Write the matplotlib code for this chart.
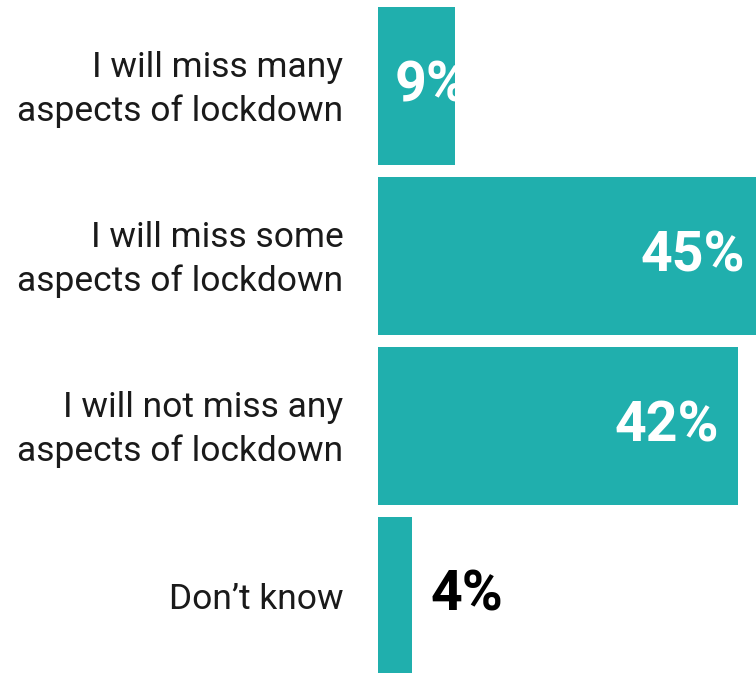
import matplotlib
matplotlib.use("Agg")
import matplotlib.pyplot as plt
import matplotlib.transforms as mtrans

# survey answers, top to bottom
categories = [
    "I will miss many\naspects of lockdown",
    "I will miss some\naspects of lockdown",
    "I will not miss any\naspects of lockdown",
    "Don\u2019t know",
]
values = [9, 45, 42, 4]
value_labels = ["9%", "45%", "42%", "4%"]

# where each label sits: 'start' inside from the left, 'end' inside from the right, 'out' past the bar
label_mode = ["start", "end", "end", "out"]

TEAL = "#20AFAD"

plt.rcParams['font.family'] = ['Roboto', 'DejaVu Sans']

fig = plt.figure(figsize=(7.56, 6.73), dpi=100)
ax = fig.add_axes([378 / 756, 0, 378 / 756, 1])

ypos = list(range(len(categories)))
bars = ax.barh(ypos, values, height=0.93, color=TEAL)

ax.set_xlim(0, 44.1)
ax.set_ylim(3.453, -0.506)

ax.set_yticks(ypos)
ax.set_yticklabels(categories, fontsize=25.5, color="#1a1a1a",
                   linespacing=1.38, ha="right")
ax.tick_params(axis="y", length=0, pad=25)
ax.set_xticks([])
for s in ax.spines.values():
    s.set_visible(False)

# two-line labels sit a bit low with va=center, nudge them up
shift = mtrans.ScaledTranslation(0, 5 / 100, fig.dpi_scale_trans)
for tl in ax.get_yticklabels():
    if "\n" in tl.get_text():
        tl.set_transform(tl.get_transform() + shift)

for bar, lab, mode in zip(bars, value_labels, label_mode):
    y = bar.get_y() + bar.get_height() / 2
    w = bar.get_width()
    if mode == "start":
        t = ax.annotate(lab, (0, y), xytext=(17, 0), textcoords="offset pixels",
                        ha="left", va="center", color="white",
                        fontsize=40, fontweight="bold")
        t.set_clip_path(bar)
    elif mode == "end":
        ax.annotate(lab, (w, y), xytext=(-19, 0), textcoords="offset pixels",
                    ha="right", va="center", color="white",
                    fontsize=40, fontweight="bold", annotation_clip=False)
    else:
        ax.annotate(lab, (w, y), xytext=(18, 0), textcoords="offset pixels",
                    ha="left", va="center", color="black",
                    fontsize=40, fontweight="bold")

fig.savefig("out.png", dpi=100)
